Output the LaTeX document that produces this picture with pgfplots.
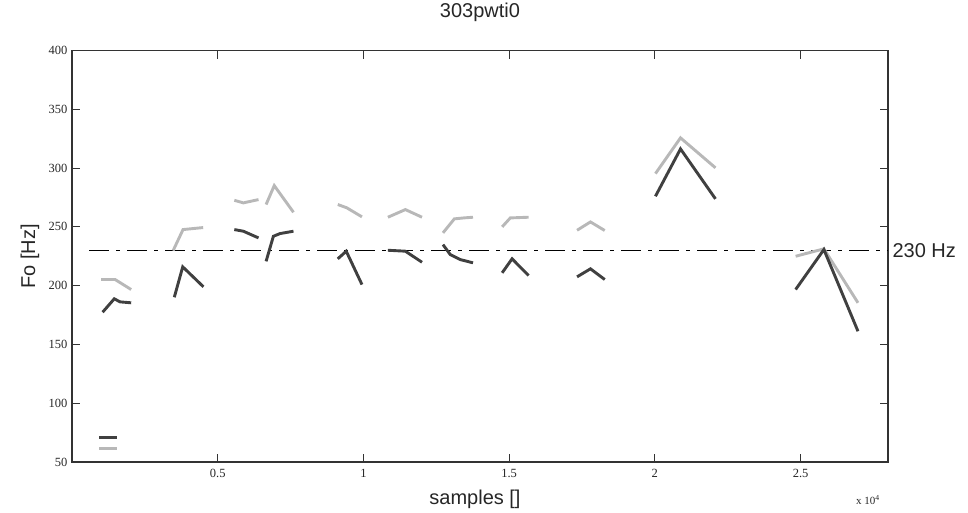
\documentclass[border=0pt]{standalone}
\usepackage{pgfplots}
\pgfplotsset{compat=1.18}
\usepackage{fontspec}
\setmainfont{Liberation Serif}
\newfontfamily\arial{Liberation Sans}
\definecolor{lightF}{HTML}{B8B8B8}
\definecolor{darkF}{HTML}{404040}
\begin{document}
\begin{tikzpicture}
  % page = 968 x 513, axis box from (72,51) to (888,462.5) in pixels
  \useasboundingbox (-72pt,-50.5pt) rectangle (896pt,462pt);
  \begin{axis}[
      at={(0,0)}, anchor=south west,
      scale only axis,
      width=816pt, height=411.5pt,
      xmin=0, xmax=2.8, ymin=50, ymax=400,
      xtick={0.5,1,1.5,2,2.5},
      ytick={50,100,...,400},
      tick align=inside,
      major tick length=8pt,
      axis line style={line width=1.2pt, black!80},
      tick style={line width=1pt, black!80},
      /pgf/number format/assume math mode=true,
      ticklabel style={font=\fontsize{12.5}{14}\selectfont, black!85},
      xticklabel style={yshift=-4pt},
      yticklabel style={xshift=-1pt},
      clip=false,
    ]

    % reference line at 230 Hz
    \addplot[black, line width=1.2pt, dash pattern=on 20pt off 7pt on 4pt off 7pt]
      coordinates {(0.06,230) (2.8,230)};

    % light trace
    \pgfplotsset{every axis plot/.append style={line width=2.9pt}}
    \addplot[lightF] coordinates {(0.093,61.5) (0.155,61.5)};
    \addplot[lightF] coordinates {(0.100,205.2) (0.148,205.2) (0.203,196.7)};
    \addplot[lightF] coordinates {(0.347,229.8) (0.381,247.7) (0.450,249.4)};
    \addplot[lightF] coordinates {(0.557,272.6) (0.588,270.4) (0.640,273.2)};
    \addplot[lightF] coordinates {(0.666,269.0) (0.694,285.1) (0.760,262.4)};
    \addplot[lightF] coordinates {(0.912,269.0) (0.943,266.2) (0.995,258.5)};
    \addplot[lightF] coordinates {(1.084,258.2) (1.144,264.7) (1.201,258.2)};
    \addplot[lightF] coordinates {(1.273,244.9) (1.312,256.8) (1.344,257.6) (1.376,258.2)};
    \addplot[lightF] coordinates {(1.476,250.0) (1.504,257.6) (1.567,258.2)};
    \addplot[lightF] coordinates {(1.733,247.1) (1.779,254.2) (1.828,246.9)};
    \addplot[lightF] coordinates {(2.002,295.3) (2.088,325.7) (2.208,300.2)};
    \addplot[lightF] coordinates {(2.483,225.0) (2.580,231.3) (2.697,185.4)};

    % dark trace
    \addplot[darkF] coordinates {(0.093,70.8) (0.155,70.8)};
    \addplot[darkF] coordinates {(0.105,177.4) (0.145,188.8) (0.165,186.2) (0.203,185.4)};
    \addplot[darkF] coordinates {(0.351,190.1) (0.380,216.0) (0.451,199.0)};
    \addplot[darkF] coordinates {(0.557,247.7) (0.588,246.3) (0.640,240.6)};
    \addplot[darkF] coordinates {(0.666,220.7) (0.691,242.0) (0.714,244.3) (0.760,246.3)};
    \addplot[darkF] coordinates {(0.912,222.8) (0.941,229.3) (0.995,200.9)};
    \addplot[darkF] coordinates {(1.084,230.1) (1.144,229.3) (1.201,219.9)};
    \addplot[darkF] coordinates {(1.273,234.9) (1.298,226.4) (1.332,222.2) (1.376,219.4)};
    \addplot[darkF] coordinates {(1.476,210.9) (1.510,222.8) (1.567,208.6)};
    \addplot[darkF] coordinates {(1.733,207.5) (1.779,214.3) (1.828,205.2)};
    \addplot[darkF] coordinates {(2.002,276.0) (2.088,316.3) (2.208,273.8)};
    \addplot[darkF] coordinates {(2.483,196.7) (2.580,230.7) (2.697,161.2)};

    % texts
    \node[font=\arial\fontsize{20}{22}\selectfont, black!85] at ([yshift=38pt]rel axis cs:0.5,1) {303pwti0};
    \node[font=\arial\fontsize{20}{22}\selectfont, black!85] at ([xshift=-5pt, yshift=-37.5pt]rel axis cs:0.5,0) {samples []};
    \node[font=\arial\fontsize{20}{22}\selectfont, black!85, rotate=90] at ([xshift=-42pt]rel axis cs:0,0.5) {Fo [Hz]};
    \node[font=\arial\fontsize{20}{22}\selectfont, black!85, anchor=west] at ([xshift=1pt]axis cs:2.8,230) {230 Hz};
    \node[font=\fontsize{11}{12}\selectfont, black!85] at ([xshift=-20pt, yshift=-38pt]rel axis cs:1,0) {x 10\textsuperscript{4}};
  \end{axis}
\end{tikzpicture}
\end{document}
